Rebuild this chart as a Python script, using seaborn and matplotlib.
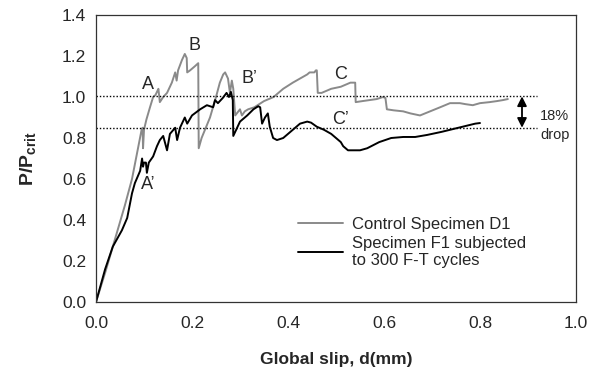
import matplotlib
matplotlib.use("Agg")
import matplotlib.pyplot as plt
import seaborn as sns
import pandas as pd

# ---- data ----
control_x = [0, 0.02, 0.04, 0.06, 0.075, 0.085, 0.095, 0.097, 0.098, 0.100, 0.105, 0.1125, 0.119, 0.124,
             0.127, 0.13, 0.133, 0.14, 0.148, 0.158, 0.165, 0.168, 0.171, 0.179, 0.185, 0.189, 0.19, 0.196,
             0.206, 0.213, 0.214, 0.22, 0.2375, 0.25, 0.258, 0.265, 0.269, 0.275, 0.279, 0.283, 0.286, 0.29,
             0.30, 0.304, 0.31, 0.317, 0.33, 0.35, 0.37, 0.39, 0.41, 0.425, 0.44, 0.445, 0.455, 0.458, 0.46,
             0.462, 0.47, 0.49, 0.51, 0.53, 0.54, 0.541, 0.555, 0.57, 0.585, 0.598, 0.603, 0.606, 0.62, 0.64,
             0.655, 0.675, 0.696, 0.717, 0.7375, 0.758, 0.77, 0.785, 0.80, 0.82, 0.835, 0.848, 0.858]
control_y = [0, 0.15, 0.31, 0.47, 0.60, 0.72, 0.84, 0.85, 0.75, 0.84, 0.89, 0.95, 1.0, 1.01,
             1.025, 1.04, 0.975, 1.0, 1.02, 1.07, 1.12, 1.08, 1.13, 1.18, 1.21, 1.19, 1.12, 1.13,
             1.15, 1.165, 0.75, 0.80, 0.90, 1.0, 1.07, 1.11, 1.12, 1.09, 1.02, 1.08, 1.04, 0.91,
             0.94, 0.91, 0.93, 0.94, 0.95, 0.98, 1.0, 1.04, 1.07, 1.09, 1.11, 1.12, 1.12, 1.13, 1.13,
             1.02, 1.02, 1.04, 1.05, 1.07, 1.07, 0.975, 0.98, 0.985, 0.99, 1.0, 0.995, 0.94, 0.935, 0.93,
             0.92, 0.91, 0.93, 0.95, 0.97, 0.97, 0.965, 0.96, 0.97, 0.975, 0.98, 0.985, 0.99]

ft_x = [0, 0.019, 0.035, 0.054, 0.065, 0.075, 0.081, 0.092, 0.096, 0.098, 0.10, 0.104, 0.106, 0.11,
        0.119, 0.127, 0.133, 0.14, 0.148, 0.154, 0.165, 0.169, 0.175, 0.185, 0.19, 0.2, 0.217, 0.231,
        0.244, 0.248, 0.254, 0.264, 0.272, 0.277, 0.281, 0.285, 0.286, 0.30, 0.315, 0.328, 0.338, 0.342,
        0.346, 0.352, 0.358, 0.362, 0.369, 0.377, 0.39, 0.41, 0.425, 0.44, 0.448, 0.46, 0.475, 0.49,
        0.5, 0.51, 0.515, 0.525, 0.55, 0.565, 0.59, 0.615, 0.64, 0.665, 0.69, 0.72, 0.755, 0.79, 0.80]
ft_y = [0, 0.16, 0.27, 0.35, 0.41, 0.53, 0.58, 0.64, 0.70, 0.66, 0.68, 0.68, 0.63, 0.68,
        0.71, 0.76, 0.79, 0.81, 0.74, 0.82, 0.85, 0.79, 0.85, 0.90, 0.87, 0.91, 0.94, 0.96,
        0.95, 0.985, 0.97, 0.995, 1.02, 1.0, 1.025, 0.985, 0.81, 0.88, 0.91, 0.94, 0.955, 0.95,
        0.87, 0.90, 0.92, 0.855, 0.80, 0.79, 0.80, 0.84, 0.87, 0.88, 0.875, 0.855, 0.84, 0.82,
        0.80, 0.78, 0.76, 0.74, 0.74, 0.75, 0.78, 0.80, 0.805, 0.805, 0.815, 0.83, 0.85, 0.87, 0.873]

series_labels = ["Control Specimen D1", "Specimen F1 subjected\nto 300 F-T cycles"]
ref_levels = [1.003, 0.85]
point_labels = ["A", "B", "B\u2019", "C", "A\u2019", "C\u2019"]
point_x = [0.108, 0.206, 0.32, 0.51, 0.108, 0.51]
point_y = [1.06, 1.25, 1.09, 1.11, 0.575, 0.89]
x_ticks = [0.0, 0.2, 0.4, 0.6, 0.8, 1.0]
y_ticks = [0.0, 0.2, 0.4, 0.6, 0.8, 1.0, 1.2, 1.4]

# ---- style ----
sns.set_style("white")
plt.rcParams["font.family"] = ["Liberation Sans", "DejaVu Sans"]
plt.rcParams["mathtext.fontset"] = "custom"
plt.rcParams["mathtext.rm"] = "Liberation Sans"
plt.rcParams["mathtext.bf"] = "Liberation Sans:bold"
plt.rcParams["mathtext.it"] = "Liberation Sans:italic"

fig, ax = plt.subplots(figsize=(5.91, 3.81), dpi=100)
fig.subplots_adjust(left=96/591, right=576/591, top=1-15/381, bottom=1-302/381)

df_c = pd.DataFrame({"x": control_x, "y": control_y})
df_f = pd.DataFrame({"x": ft_x, "y": ft_y})
sns.lineplot(data=df_c, x="x", y="y", sort=False, estimator=None, color="#8a8a8a",
             linewidth=1.4, ax=ax, label=series_labels[0])
sns.lineplot(data=df_f, x="x", y="y", sort=False, estimator=None, color="black",
             linewidth=1.4, ax=ax, label=series_labels[1])

for lv in ref_levels:
    ax.plot([0, 0.918], [lv, lv], color="black", linewidth=1.0, linestyle=(0, (1, 1.4)))

ax.annotate("", xy=(0.8875, ref_levels[1]), xytext=(0.8875, ref_levels[0]),
            arrowprops=dict(arrowstyle="<|-|>", color="black", lw=1.3,
                            mutation_scale=14, shrinkA=0, shrinkB=0))
ax.text(0.956, 0.907, "18%", fontsize=10.5, ha="center", va="center")
ax.text(0.956, 0.815, "drop", fontsize=10.5, ha="center", va="center")

for lab, px, py in zip(point_labels, point_x, point_y):
    ax.text(px, py, lab, fontsize=13, ha="center", va="center")

ax.set_xlim(0, 1.0)
ax.set_ylim(0, 1.4)
ax.set_xticks(x_ticks)
ax.set_yticks(y_ticks)
ax.set_xticklabels([f"{v:.1f}" for v in x_ticks], fontsize=12.5)
ax.set_yticklabels([f"{v:.1f}" for v in y_ticks], fontsize=12.5)
ax.tick_params(axis="both", direction="out", length=4, width=0.8, color="#333333", pad=3)
ax.tick_params(axis="x", pad=6)
for sp in ax.spines.values():
    sp.set_visible(True)
    sp.set_color("#333333")
    sp.set_linewidth(0.9)

ax.set_xlabel("Global slip, d(mm)", fontsize=12.5, fontweight="bold", labelpad=15)
ax.set_ylabel(r"$\mathbf{P/P_{crit}}$", fontsize=14, labelpad=17)

leg = ax.legend(loc="upper left", bbox_to_anchor=(0.39, 0.35), frameon=False,
                fontsize=12, handlelength=2.7, handletextpad=0.5, labelspacing=0.25)

fig.savefig("out.png", dpi=100)
